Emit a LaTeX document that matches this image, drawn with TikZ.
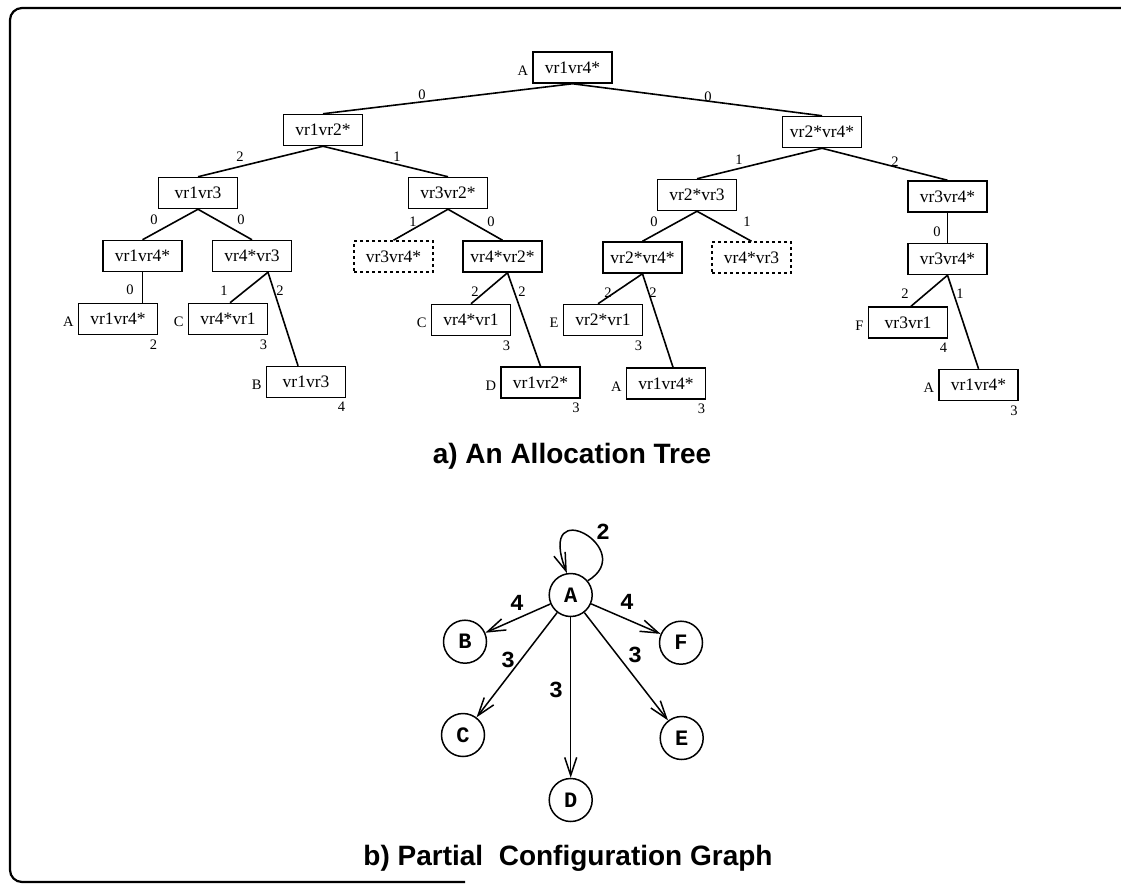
\documentclass[tikz,border=0pt]{standalone}
\usepackage{fontspec}
\setmainfont{Liberation Serif}
\newfontfamily\capfont{Liberation Sans}
\newfontfamily\graphfont{Liberation Mono}
\usetikzlibrary{arrows.meta}

% tag letter to the left of a leaf box and its count below right
\newcommand\leafnote[3]{%
  \node[tag, anchor=east] (#1-tag) at ([xshift=-4pt,yshift=-3pt]#1.west) {#2};
  \node[tag, anchor=north east] (#1-cnt) at ([xshift=-1pt,yshift=-4pt]#1.south east) {#3};
}

\begin{document}
\begin{tikzpicture}[x=1pt,y=-1pt,
  tbox/.style={draw, line width=1.5pt, minimum width=79pt, minimum height=31pt,
    inner sep=0pt, font=\fontsize{17.5}{17.5}\selectfont},
  ghost/.style={tbox, dash pattern=on 3pt off 3pt},
  elbl/.style={font=\fontsize{14.5}{14.5}\selectfont, inner sep=0pt},
  tag/.style={font=\fontsize{14.5}{14.5}\selectfont, inner sep=0pt},
  branch/.style={line width=1.6pt},
  gnode/.style={circle, draw, line width=1.5pt, minimum size=43pt, inner sep=0pt,
    font=\graphfont\bfseries\fontsize{22}{22}\selectfont},
  garc/.style={line width=1.5pt, -{Straight Barb[length=18pt,width=12pt,line width=1.5pt]}},
  glbl/.style={font=\graphfont\bfseries\fontsize{23}{23}\selectfont, inner sep=0pt},
  caption/.style={font=\capfont\bfseries\fontsize{28}{28}\selectfont, inner sep=0pt}
]
\useasboundingbox (0,0) rectangle (1121,891);

% partial frame
\draw[line width=2.2pt] (1121,8) -- (22,8) arc[start angle=90, end angle=180, radius=12pt]
  -- (10,870) arc[start angle=180, end angle=270, radius=12pt] -- (465,882);

% ---------- a) allocation tree ----------
\node[tbox] (root) at (572.5,67.5) {vr1vr4*};
\node[tbox] (n1) at (323,130) {vr1vr2*};
\node[tbox] (n2) at (822,132) {vr2*vr4*};
\node[tbox] (n11) at (198,193) {vr1vr3};
\node[tbox] (n12) at (448,193) {vr3vr2*};
\node[tbox] (n21) at (697,195) {vr2*vr3};
\node[tbox] (n22) at (947.5,196.5) {vr3vr4*};
\node[tbox] (n111) at (142.5,256) {vr1vr4*};
\node[tbox] (n112) at (252,256) {vr4*vr3};
\node[ghost] (n121) at (393.5,256.5) {vr3vr4*};
\node[tbox] (n122) at (502.5,256.5) {vr4*vr2*};
\node[tbox] (n211) at (642.5,257.5) {vr2*vr4*};
\node[ghost] (n212) at (751.5,257.5) {vr4*vr3};
\node[tbox] (n221) at (947.5,259) {vr3vr4*};
\node[tbox] (l1) at (118,319) {vr1vr4*};
\node[tbox] (l2) at (228,319) {vr4*vr1};
\node[tbox] (l3) at (306,382) {vr1vr3};
\node[tbox] (l4) at (471,320) {vr4*vr1};
\node[tbox] (l5) at (540.5,382.5) {vr1vr2*};
\node[tbox] (l6) at (603,320) {vr2*vr1};
\node[tbox] (l7) at (666,383.5) {vr1vr4*};
\node[tbox] (l8) at (908,322.5) {vr3vr1};
\node[tbox] (l9) at (978.5,385) {vr1vr4*};

\node[tag, anchor=east] (root-tag) at ([xshift=-4pt,yshift=-3pt]root.west) {A};
\leafnote{l1}{A}{2}
\leafnote{l2}{C}{3}
\leafnote{l3}{B}{4}
\leafnote{l4}{C}{3}
\leafnote{l5}{D}{3}
\leafnote{l6}{E}{3}
\leafnote{l7}{A}{3}
\leafnote{l8}{F}{4}
\leafnote{l9}{A}{3}

\draw[branch] (root.south) -- (n1.north);
\draw[branch] (root.south) -- (n2.north);
\draw[branch] (n1.south) -- (n11.north);
\draw[branch] (n1.south) -- (n12.north);
\draw[branch] (n2.south) -- (n21.north);
\draw[branch] (n2.south) -- (n22.north);
\draw[branch] (n11.south) -- (n111.north);
\draw[branch] (n11.south) -- (n112.north);
\draw[branch] (n12.south) -- (n121.north);
\draw[branch] (n12.south) -- (n122.north);
\draw[branch] (n21.south) -- (n211.north);
\draw[branch] (n21.south) -- (n212.north);
\draw[branch] (n22.south) -- (n221.north);
\draw[branch] (n111.south) -- (l1.north -| n111.south);
\draw[branch] ([xshift=16pt]n112.south) -- ([xshift=2pt]l2.north);
\draw[branch] ([xshift=16pt]n112.south) -- ([xshift=-8pt]l3.north);
\draw[branch] ([xshift=5pt]n122.south) -- (l4.north);
\draw[branch] ([xshift=5pt]n122.south) -- (l5.north);
\draw[branch] (n211.south) -- ([xshift=-5pt]l6.north);
\draw[branch] (n211.south) -- ([xshift=7pt]l7.north);
\draw[branch] (n221.south) -- ([xshift=3pt]l8.north);
\draw[branch] (n221.south) -- (l9.north);

% branch weights
\node[elbl] (w1) at (422,95) {0};
\node[elbl] (w2) at (708,97) {0};
\node[elbl] (w3) at (240,157) {2};
\node[elbl] (w4) at (397,157) {1};
\node[elbl] (w5) at (739,160) {1};
\node[elbl] (w6) at (895,162) {2};
\node[elbl] (w7) at (154,220) {0};
\node[elbl] (w8) at (241,220) {0};
\node[elbl] (w9) at (413,222) {1};
\node[elbl] (w10) at (491,222) {0};
\node[elbl] (w11) at (654,222) {0};
\node[elbl] (w12) at (747,222) {1};
\node[elbl] (w13) at (937,232) {0};
\node[elbl] (w14) at (130,290) {0};
\node[elbl] (w15) at (224,291) {1};
\node[elbl] (w16) at (280,291) {2};
\node[elbl] (w17) at (475,292) {2};
\node[elbl] (w18) at (522,292) {2};
\node[elbl] (w19) at (608,293) {2};
\node[elbl] (w20) at (653,293) {2};
\node[elbl] (w21) at (905,294) {2};
\node[elbl] (w22) at (960,294) {1};

\node[caption] (capa) at (572,456) {a) An Allocation Tree};

% ---------- b) partial configuration graph ----------
\node[gnode] (A) at (570.7,595) {A};
\node[gnode] (B) at (465,641.7) {B};
\node[gnode] (F) at (681,642.7) {F};
\node[gnode] (C) at (463,735) {C};
\node[gnode] (E) at (681.7,738) {E};
\node[gnode] (D) at (570.7,800) {D};

\draw[garc] (A.40) .. controls (640,550) and (535,490) .. (A.100);
\draw[garc] (A) -- (B);
\draw[garc] (A) -- (F);
\draw[garc] (A) -- (C);
\draw[garc] (A) -- (D);
\draw[garc] (A) -- (E);

\node[glbl] (g0) at (603,532) {2};
\node[glbl] (g1) at (517,603) {4};
\node[glbl] (g2) at (627,602) {4};
\node[glbl] (g3) at (508,660) {3};
\node[glbl] (g4) at (556,690) {3};
\node[glbl] (g5) at (635,655) {3};

\node[caption] (capb) at (568,858) {b) Partial\ \ Configuration Graph};
\end{tikzpicture}
\end{document}
